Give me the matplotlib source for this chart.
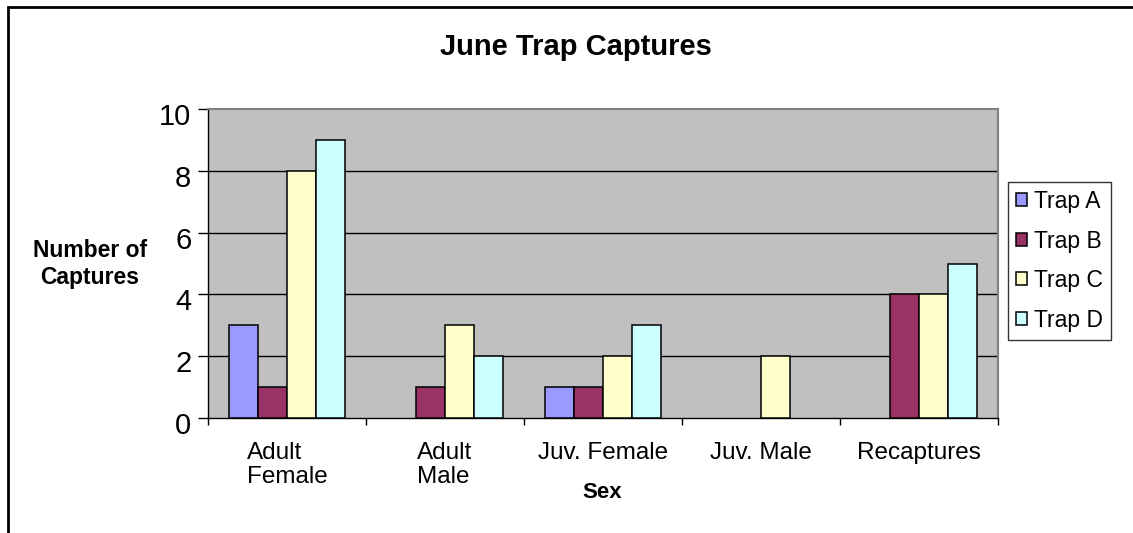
""" June trap captures """

import numpy as np
import matplotlib

matplotlib.use("Agg")
import matplotlib.pyplot as plt
import matplotlib.transforms as mtransforms
from matplotlib.patches import Rectangle

categories = ["Adult\nFemale", "Adult\nMale", "Juv. Female", "Juv. Male", "Recaptures"]
series = ["Trap A", "Trap B", "Trap C", "Trap D"]
trap_a = [3, 0, 1, 0, 0]
trap_b = [1, 1, 1, 0, 4]
trap_c = [8, 3, 2, 2, 4]
trap_d = [9, 2, 3, 0, 5]
y_ticks = [0, 2, 4, 6, 8, 10]

colors = ["#9999FF", "#993366", "#FFFFCC", "#CCFFFF"]

W, H = 1133, 533
plt.rcParams["font.family"] = ["Liberation Sans", "DejaVu Sans"]

fig = plt.figure(figsize=(W / 100, H / 100), dpi=100)
ax = fig.add_axes([208 / W, 1 - 418 / H, 790 / W, 309 / H])
ax.set_facecolor("#C0C0C0")

x = np.arange(len(categories))
bar_w = 0.1835
for i, (name, vals) in enumerate(zip(series, [trap_a, trap_b, trap_c, trap_d])):
    bars = ax.bar(
        x + (i - 1.5) * bar_w,
        vals,
        width=bar_w,
        color=colors[i],
        edgecolor="black",
        linewidth=1.1,
        label=name,
        zorder=3,
    )
    # empty bars draw nothing, as in the original
    for patch in bars.patches:
        if patch.get_height() == 0:
            patch.set_visible(False)

ax.set_xlim(-0.5, len(categories) - 0.5)
ax.set_ylim(0, 10)

# labels at centres, tick marks at category boundaries
ax.set_xticks(x)
ax.set_xticklabels(categories, fontsize=17.5, multialignment="left", linespacing=1.15)
ax.tick_params(axis="x", length=0, pad=17)
ax.set_xticks(np.arange(len(categories) + 1) - 0.5, minor=True)
ax.tick_params(axis="x", which="minor", length=5, width=1, direction="out", color="black")

ax.set_yticks(y_ticks)
ax.tick_params(axis="y", length=7, width=1, direction="out", pad=5, labelsize=21, color="black")
offset = mtransforms.ScaledTranslation(0, -5 / 100, fig.dpi_scale_trans)
for label in ax.get_yticklabels():
    label.set_transform(label.get_transform() + offset)

ax.grid(axis="y", color="black", linewidth=1, zorder=1)
ax.set_axisbelow(True)
glines = ax.get_ygridlines()
glines[0].set_visible(False)
glines[-1].set_visible(False)

for side in ["left", "bottom"]:
    ax.spines[side].set_color("black")
    ax.spines[side].set_linewidth(1)
for side in ["top", "right"]:
    ax.spines[side].set_color("#808080")
    ax.spines[side].set_linewidth(1.5)

fig.text(576 / W, 1 - 47 / H, "June Trap Captures", ha="center", va="center",
         fontsize=21, fontweight="bold")
fig.text(90 / W, 1 - 264 / H, "Number of\nCaptures", ha="center", va="center",
         fontsize=16.5, fontweight="bold", linespacing=1.2)
fig.text(602 / W, 1 - 493 / H, "Sex", ha="center", va="center",
         fontsize=16, fontweight="bold")

leg = fig.legend(
    loc="upper left",
    bbox_to_anchor=(1008 / W, 1 - 182 / H),
    fontsize=16.5,
    frameon=True,
    fancybox=False,
    handlelength=0.5,
    handleheight=0.5,
    handletextpad=0.3,
    labelspacing=0.72,
    borderpad=0.35,
    borderaxespad=0,
)
leg.get_frame().set_edgecolor("black")
leg.get_frame().set_linewidth(1)

# outer chart border, only left and top edges visible
fig.patches.append(
    Rectangle((8 / W, -0.1), 1.2, 1.1 - 7 / H, fill=False, edgecolor="black",
              linewidth=2, transform=fig.transFigure, figure=fig)
)

fig.savefig("out.png", dpi=100)
